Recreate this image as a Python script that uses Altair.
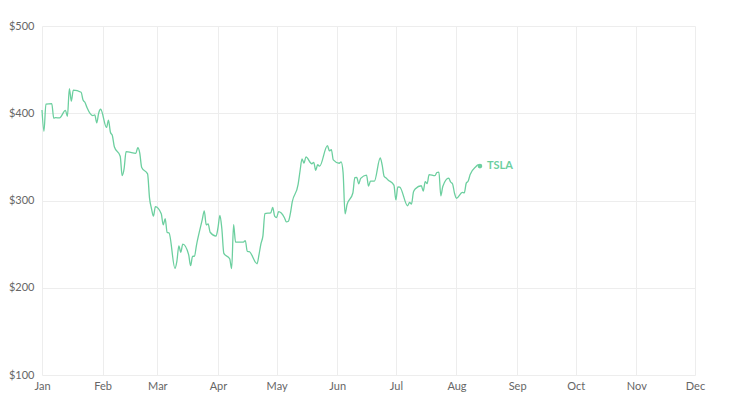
import altair as alt
import pandas as pd

dates = [
    "2025-01-01", "2025-01-02", "2025-01-03", "2025-01-06", "2025-01-07", "2025-01-08", "2025-01-10",
    "2025-01-13", "2025-01-14", "2025-01-15", "2025-01-16", "2025-01-17", "2025-01-21", "2025-01-22",
    "2025-01-23", "2025-01-24", "2025-01-27", "2025-01-28", "2025-01-29", "2025-01-30", "2025-01-31",
    "2025-02-03", "2025-02-04", "2025-02-05", "2025-02-06", "2025-02-07", "2025-02-10", "2025-02-11",
    "2025-02-12", "2025-02-13", "2025-02-14", "2025-02-18", "2025-02-19", "2025-02-20", "2025-02-21",
    "2025-02-24", "2025-02-25", "2025-02-26", "2025-02-27", "2025-02-28",
    "2025-03-03", "2025-03-04", "2025-03-05", "2025-03-06", "2025-03-07", "2025-03-10", "2025-03-11",
    "2025-03-12", "2025-03-13", "2025-03-14", "2025-03-17", "2025-03-18", "2025-03-19", "2025-03-20",
    "2025-03-21", "2025-03-24", "2025-03-25", "2025-03-26", "2025-03-27", "2025-03-28", "2025-03-31",
    "2025-04-01", "2025-04-02", "2025-04-03", "2025-04-04", "2025-04-07", "2025-04-08", "2025-04-09",
    "2025-04-10", "2025-04-11", "2025-04-14", "2025-04-15", "2025-04-16", "2025-04-17", "2025-04-21",
    "2025-04-22", "2025-04-23", "2025-04-24", "2025-04-25", "2025-04-28", "2025-04-29", "2025-04-30",
    "2025-05-01", "2025-05-02", "2025-05-05", "2025-05-06", "2025-05-07", "2025-05-08", "2025-05-09",
    "2025-05-12", "2025-05-13", "2025-05-14", "2025-05-15", "2025-05-16", "2025-05-19", "2025-05-20",
    "2025-05-21", "2025-05-22", "2025-05-23", "2025-05-27", "2025-05-28", "2025-05-29", "2025-05-30",
    "2025-06-02", "2025-06-03", "2025-06-04", "2025-06-05", "2025-06-06", "2025-06-09", "2025-06-10",
    "2025-06-11", "2025-06-12", "2025-06-13", "2025-06-16", "2025-06-17", "2025-06-18", "2025-06-20",
    "2025-06-23", "2025-06-24", "2025-06-25", "2025-06-26", "2025-06-27", "2025-06-30",
    "2025-07-01", "2025-07-02", "2025-07-03", "2025-07-07", "2025-07-08", "2025-07-09", "2025-07-10",
    "2025-07-11", "2025-07-14", "2025-07-15", "2025-07-16", "2025-07-17", "2025-07-18", "2025-07-21",
    "2025-07-22", "2025-07-23", "2025-07-24", "2025-07-25", "2025-07-28", "2025-07-29", "2025-07-30",
    "2025-07-31", "2025-08-01", "2025-08-04", "2025-08-05", "2025-08-06", "2025-08-07", "2025-08-08",
    "2025-08-11", "2025-08-12", "2025-08-13",
]

prices = [
    403.8, 379.3, 410.4, 411.1, 394.4, 394.9, 394.7,
    403.3, 396.4, 428.2, 413.8, 426.5, 424.1, 415.1,
    412.4, 406.6, 397.2, 398.1, 389.1, 400.3, 404.6,
    383.7, 392.2, 378.2, 374.3, 361.6, 350.7, 328.5,
    336.5, 355.9, 355.8, 354.1, 360.6, 354.4, 337.8,
    330.5, 302.8, 290.8, 282.0, 293.0,
    284.7, 272.0, 279.1, 263.5, 262.7, 222.2, 230.6,
    248.1, 240.7, 250.0, 238.0, 225.3, 235.9, 236.3,
    248.7, 278.4, 288.1, 272.1, 273.1, 263.6, 259.2,
    268.5, 282.8, 267.3, 239.4, 233.3, 221.9, 272.2,
    252.4, 252.3, 252.4, 254.1, 241.6, 241.4, 227.5,
    238.0, 250.7, 259.5, 285.0, 285.9, 292.0, 282.2,
    280.5, 287.2, 280.3, 275.4, 276.2, 284.8, 298.3,
    318.4, 334.1, 347.7, 342.8, 350.0, 342.1, 343.8,
    334.6, 341.0, 339.3, 362.9, 356.9, 358.4, 346.5,
    342.7, 344.3, 332.1, 284.7, 295.1, 308.6, 326.1,
    326.4, 319.1, 325.3, 329.1, 316.4, 322.1, 322.2,
    348.7, 340.5, 327.6, 325.8, 323.6, 317.7,
    300.7, 315.7, 315.4, 293.9, 297.8, 295.9, 309.9,
    313.5, 316.9, 310.8, 321.7, 319.4, 329.7, 328.5,
    332.1, 332.6, 305.3, 316.1, 325.6, 321.2, 319.0,
    308.3, 302.6, 309.3, 308.7, 319.9, 322.3, 329.7,
    339.0, 340.8, 339.4,
]

ticker = "TSLA"
y_ticks = [100, 200, 300, 400, 500]
tick_months = list(range(1, 13))

df = pd.DataFrame({"date": dates, "price": prices})
last = pd.DataFrame({"date": [dates[-1]], "price": [prices[-1]], "label": [ticker]})

color = "#6ccf9f"
font = "Lato"

x_enc = alt.X(
    "date:T",
    scale=alt.Scale(
        type="utc",
        domain=[alt.DateTime(year=2025, month=1, date=1, utc=True),
                alt.DateTime(year=2025, month=12, date=1, utc=True)],
        nice=False,
    ),
    axis=alt.Axis(
        title=None,
        labelExpr="utcFormat(datum.value, '%b')",
        values=[alt.DateTime(year=2025, month=m, date=1, utc=True) for m in tick_months],
        labelOverlap=False, labelFlush=False,
        domain=False, ticks=False, labelPadding=5, grid=True,
    ),
)
y_enc = alt.Y(
    "price:Q",
    scale=alt.Scale(domain=[100, 500], nice=False, zero=False),
    axis=alt.Axis(
        title=None, values=y_ticks, format="$d", domain=False, ticks=False,
        labelPadding=8, grid=True,
    ),
)

line = alt.Chart(df).mark_line(color=color, strokeWidth=1.3, interpolate="monotone").encode(
    x=x_enc, y=y_enc
)
dot = alt.Chart(last).mark_point(filled=True, color=color, size=22, opacity=1).encode(
    x=x_enc, y=y_enc
)
label = alt.Chart(last).mark_text(
    align="left", baseline="middle", dx=7, color=color, fontWeight="bold", fontSize=11, font=font
).encode(x=x_enc, y=y_enc, text="label:N")

chart = (
    alt.layer(line, dot, label)
    .properties(
        width=653, height=349,
        autosize=alt.AutoSizeParams(type="none"),
        padding={"left": 34, "top": 18, "right": 30, "bottom": 25},
    )
    .configure_view(stroke=None)
    .configure_axis(
        gridColor="#ededed", gridWidth=1, labelColor="#666666", labelFont=font, labelFontSize=11,
    )
)

chart.save("out.html", embed_options={"renderer": "svg", "actions": False})
